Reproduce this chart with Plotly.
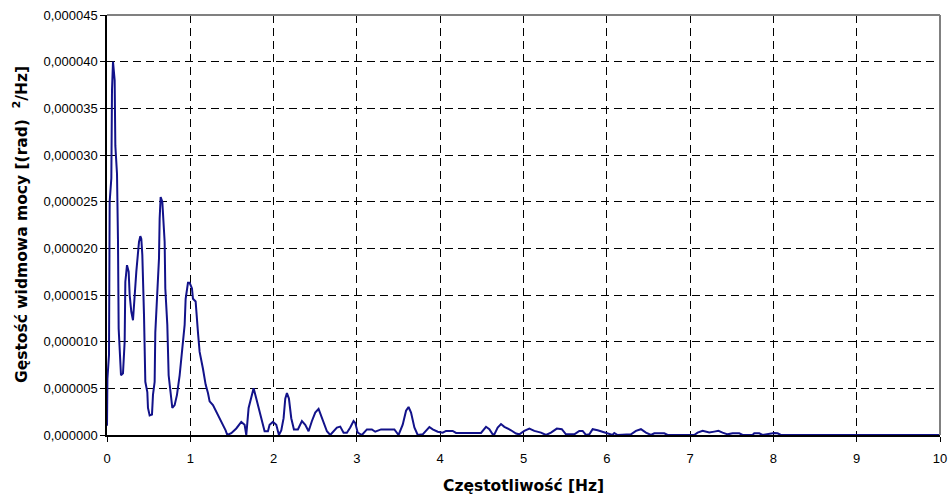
import plotly.graph_objects as go

freq_hz = [0, 0.005, 0.024, 0.032, 0.052, 0.06, 0.072, 0.092, 0.1, 0.12, 0.132, 0.14, 0.168, 0.192,
           0.212, 0.22, 0.24, 0.26, 0.272, 0.292, 0.312, 0.332, 0.352, 0.384, 0.4, 0.412, 0.424,
           0.444, 0.46, 0.484, 0.492, 0.512, 0.54, 0.552, 0.572, 0.58, 0.624, 0.632, 0.644, 0.664,
           0.692, 0.7, 0.724, 0.74, 0.764, 0.784, 0.812, 0.84, 0.872, 0.9, 0.932, 0.944, 0.972,
           0.992, 1.02, 1.032, 1.064, 1.092, 1.112, 1.152, 1.184, 1.212, 1.232, 1.272, 1.312,
           1.372, 1.424, 1.444, 1.492, 1.552, 1.612, 1.652, 1.672, 1.7, 1.732, 1.76, 1.792,
           1.832, 1.872, 1.892, 1.932, 1.952, 1.992, 2.032, 2.064, 2.092, 2.12, 2.14, 2.16,
           2.184, 2.212, 2.244, 2.292, 2.34, 2.38, 2.42, 2.46, 2.50, 2.54, 2.58, 2.64, 2.68,
           2.72, 2.76, 2.80, 2.84, 2.88, 2.92, 2.96, 2.98, 3.01, 3.06, 3.12, 3.18, 3.22, 3.29,
           3.45, 3.50, 3.55, 3.59, 3.62, 3.65, 3.69, 3.73, 3.79, 3.83, 3.87, 3.91, 3.97, 4.03,
           4.07, 4.15, 4.19, 4.49, 4.55, 4.59, 4.63, 4.65, 4.69, 4.73, 4.77, 4.85, 4.91, 4.95,
           5.01, 5.07, 5.13, 5.21, 5.27, 5.33, 5.40, 5.46, 5.51, 5.61, 5.67, 5.71, 5.75, 5.79,
           5.83, 5.89, 5.97, 6.03, 6.07, 6.09, 6.13, 6.29, 6.35, 6.41, 6.47, 6.53, 6.57, 6.69,
           6.73, 7.05, 7.09, 7.15, 7.23, 7.29, 7.34, 7.39, 7.45, 7.51, 7.59, 7.63, 7.75, 7.77,
           7.83, 7.87, 7.93, 7.97, 8.01, 8.05, 8.09, 10.0]

psd_e6 = [1.0, 6.0, 8.6, 25.0, 27.5, 37.0, 40.0, 38.0, 31.0, 28.0, 20.7, 11.4, 6.4, 6.6,
          10.0, 16.4, 18.2, 17.5, 15.0, 13.2, 12.3, 15.0, 17.5, 20.7, 21.3, 21.0, 19.3,
          12.9, 5.7, 4.6, 2.9, 2.1, 2.2, 4.3, 5.7, 11.0, 18.9, 23.2, 25.5, 25.0,
          20.7, 15.7, 11.8, 6.4, 4.3, 2.9, 3.2, 4.3, 6.4, 8.6, 11.8, 14.6, 16.3,
          16.3, 15.7, 14.6, 14.3, 11.0, 8.9, 7.1, 5.4, 4.5, 3.6, 3.2, 2.5,
          1.4, 0.5, 0.0, 0.2, 0.7, 1.4, 1.1, 0.0, 2.9, 3.9, 5.0, 3.9,
          2.5, 1.4, 0.4, 0.4, 1.1, 1.4, 1.1, 0.0, 0.5, 1.8, 3.9, 4.5,
          3.9, 1.8, 0.6, 0.6, 1.5, 1.1, 0.4, 1.5, 2.4, 2.8, 1.9, 0.4, 0.0,
          0.4, 0.8, 0.9, 0.25, 0.25, 0.8, 1.5, 1.3, 0.25, 0.0, 0.6, 0.6, 0.35, 0.6,
          0.6, 0.0, 1.1, 2.6, 3.0, 2.4, 0.8, 0.0, 0.07, 0.5, 0.86, 0.6, 0.35, 0.25,
          0.44, 0.44, 0.22, 0.22, 0.88, 0.62, 0.07, 0.07, 0.8, 1.17, 0.88, 0.51, 0.15, 0.07,
          0.44, 0.69, 0.44, 0.26, 0.0, 0.26, 0.69, 0.62, 0.07, 0.07, 0.44, 0.44, 0.0, 0.07,
          0.62, 0.51, 0.26, 0.07, 0.0, 0.22, 0.0, 0.07, 0.44, 0.62, 0.26, 0.0, 0.18, 0.18,
          0.0, 0.0, 0.26, 0.44, 0.26, 0.36, 0.44, 0.26, 0.07, 0.18, 0.18, 0.0, 0.0, 0.18,
          0.18, 0.0, 0.07, 0.18, 0.22, 0.18, 0.0, 0.0]

psd = [v * 1e-6 for v in psd_e6]

x_ticks = list(range(0, 11))
y_ticks = [i * 5e-6 for i in range(10)]

x_title = "<b>Częstotliwość [Hz]</b>"
y_title = "<b>Gęstość widmowa mocy [(rad)  <sup>2</sup>/Hz]</b>"

fig = go.Figure()
fig.add_trace(go.Scatter(x=freq_hz, y=psd, mode="lines",
                         line=dict(color="#12128a", width=2), showlegend=False))

tick_font = dict(family="Liberation Sans, Arial, sans-serif", size=13, color="black")
title_font = dict(family="DejaVu Sans, Verdana, sans-serif", size=15.5, color="black")

fig.update_layout(
    width=949, height=497,
    margin=dict(l=107, r=9, t=15, b=62),
    paper_bgcolor="white", plot_bgcolor="white",
    separators=", ",
    font=tick_font,
    xaxis=dict(range=[0, 10], tickvals=x_ticks, showgrid=True, gridcolor="black",
               griddash="8px,5px", gridwidth=1, showline=True, linecolor="black", linewidth=1.5,
               ticks="outside", ticklen=5, tickcolor="black", zeroline=False,
               automargin=False, tickfont=tick_font, ticklabelstandoff=6),
    yaxis=dict(range=[0, 45e-6], tickvals=y_ticks, tickformat=".6f", showgrid=True,
               gridcolor="black", griddash="8px,5px", gridwidth=1, showline=True,
               linecolor="black", linewidth=1.5, ticks="outside", ticklen=5, tickcolor="black",
               zeroline=False, automargin=False, tickfont=tick_font),
)
fig.add_annotation(text=x_title, xref="paper", yref="paper", x=0.5, y=-0.1214,
                   xanchor="center", yanchor="middle", showarrow=False, font=title_font)
fig.add_annotation(text=y_title, xref="paper", yref="paper", x=-0.1044, y=0.5,
                   xanchor="center", yanchor="middle", textangle=-90, showarrow=False,
                   font=title_font)
fig.add_shape(type="line", xref="paper", yref="paper", x0=0, x1=1, y0=1, y1=1,
              line=dict(color="#808080", width=2))
fig.add_shape(type="line", xref="paper", yref="paper", x0=1, x1=1, y0=0, y1=1,
              line=dict(color="#808080", width=2))
fig.write_html("out.html")
